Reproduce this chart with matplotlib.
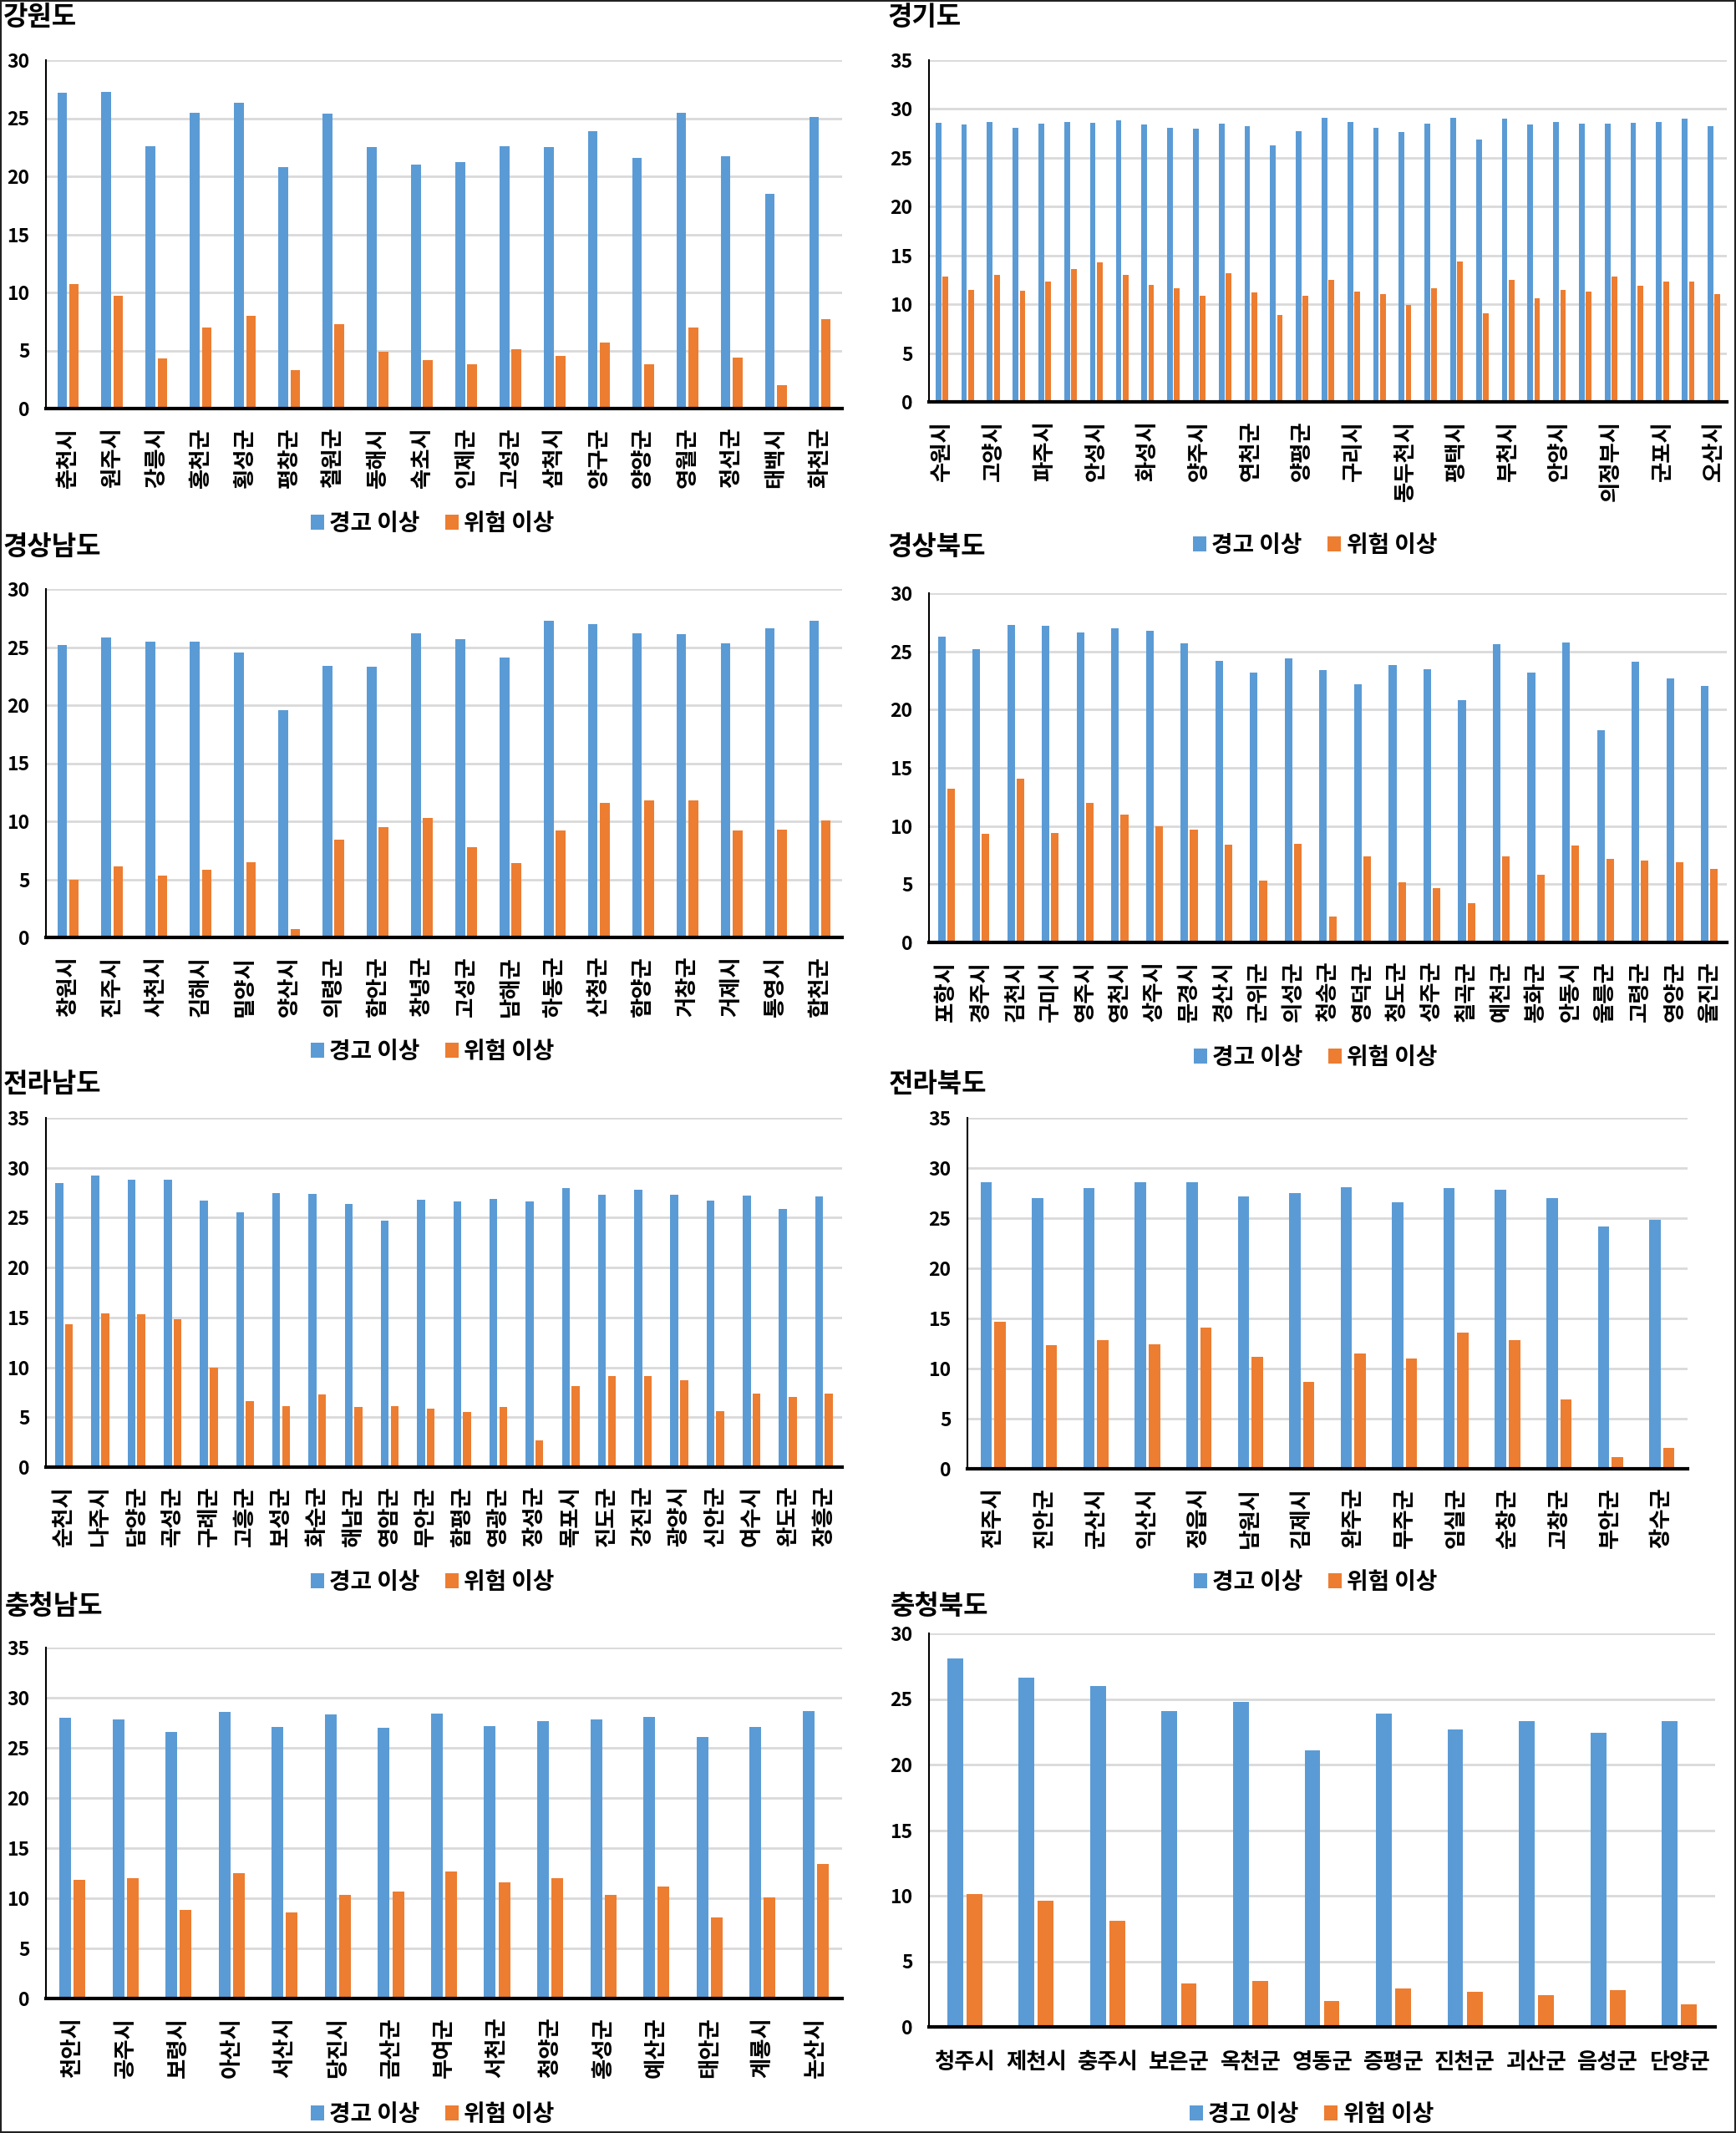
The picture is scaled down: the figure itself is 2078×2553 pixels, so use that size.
import numpy as np
import matplotlib
matplotlib.use('Agg')
import matplotlib.pyplot as plt
from matplotlib.patches import Rectangle

plt.rcParams['font.family'] = ['Noto Sans CJK KR', 'DejaVu Sans']

series_names = ['경고 이상', '위험 이상']
BLUE = '#5B9BD5'
ORANGE = '#ED7D31'

# 강원도
gangwon_names = ['춘천시', '원주시', '강릉시', '홍천군', '횡성군', '평창군', '철원군', '동해시', '속초시',
                 '인제군', '고성군', '삼척시', '양구군', '양양군', '영월군', '정선군', '태백시', '화천군']
gangwon_warn = [27.2, 27.3, 22.6, 25.5, 26.3, 20.8, 25.4, 22.5, 21.0, 21.2, 22.6, 22.5, 23.9, 21.6, 25.5, 21.7, 18.5, 25.1]
gangwon_danger = [10.7, 9.7, 4.3, 7.0, 8.0, 3.3, 7.3, 4.9, 4.2, 3.8, 5.1, 4.5, 5.7, 3.8, 7.0, 4.4, 2.0, 7.7]

# 경기도 (only every other label is shown in the original)
gyeonggi_names = ['수원시', '성남시', '고양시', '용인시', '파주시', '안산시', '안성시', '남양주시', '화성시', '시흥시',
                  '양주시', '김포시', '연천군', '광명시', '양평군', '광주시', '구리시', '하남시', '동두천시', '이천시',
                  '평택시', '포천시', '부천시', '의왕시', '안양시', '여주시', '의정부시', '과천시', '군포시', '가평군', '오산시']
gyeonggi_warn = [28.6, 28.4, 28.7, 28.1, 28.5, 28.7, 28.6, 28.8, 28.4, 28.1, 28.0, 28.5, 28.2, 26.3, 27.7, 29.1,
                 28.7, 28.1, 27.6, 28.5, 29.1, 26.9, 29.0, 28.4, 28.7, 28.5, 28.5, 28.6, 28.7, 29.0, 28.2]
gyeonggi_danger = [12.8, 11.5, 13.0, 11.4, 12.3, 13.6, 14.3, 13.0, 12.0, 11.6, 10.9, 13.2, 11.2, 8.9, 10.9, 12.5,
                   11.3, 11.0, 9.9, 11.6, 14.4, 9.1, 12.5, 10.6, 11.5, 11.3, 12.8, 11.9, 12.3, 12.3, 11.0]

# 경상남도
gyeongnam_names = ['창원시', '진주시', '사천시', '김해시', '밀양시', '양산시', '의령군', '함안군', '창녕군',
                   '고성군', '남해군', '하동군', '산청군', '함양군', '거창군', '거제시', '통영시', '합천군']
gyeongnam_warn = [25.2, 25.8, 25.5, 25.5, 24.5, 19.6, 23.4, 23.3, 26.2, 25.7, 24.1, 27.3, 27.0, 26.2, 26.1, 25.3, 26.6, 27.3]
gyeongnam_danger = [5.0, 6.1, 5.3, 5.8, 6.5, 0.7, 8.4, 9.5, 10.3, 7.8, 6.4, 9.2, 11.6, 11.8, 11.8, 9.2, 9.3, 10.1]

# 경상북도
gyeongbuk_names = ['포항시', '경주시', '김천시', '구미시', '영주시', '영천시', '상주시', '문경시', '경산시', '군위군',
                   '의성군', '청송군', '영덕군', '청도군', '성주군', '칠곡군', '예천군', '봉화군', '안동시', '울릉군',
                   '고령군', '영양군', '울진군']
gyeongbuk_warn = [26.3, 25.2, 27.3, 27.2, 26.6, 27.0, 26.8, 25.7, 24.2, 23.2, 24.4, 23.4, 22.2, 23.8, 23.5, 20.8,
                  25.6, 23.2, 25.8, 18.2, 24.1, 22.7, 22.0]
gyeongbuk_danger = [13.2, 9.3, 14.1, 9.4, 12.0, 11.0, 10.0, 9.7, 8.4, 5.3, 8.5, 2.2, 7.4, 5.2, 4.7, 3.4,
                    7.4, 5.8, 8.3, 7.2, 7.0, 6.9, 6.3]

# 전라남도
jeonnam_names = ['순천시', '나주시', '담양군', '곡성군', '구례군', '고흥군', '보성군', '화순군', '해남군', '영암군', '무안군',
                 '함평군', '영광군', '장성군', '목포시', '진도군', '강진군', '광양시', '신안군', '여수시', '완도군', '장흥군']
jeonnam_warn = [28.5, 29.2, 28.8, 28.8, 26.7, 25.5, 27.5, 27.4, 26.4, 24.7, 26.8, 26.6, 26.9, 26.6, 28.0,
                27.3, 27.8, 27.3, 26.7, 27.2, 25.9, 27.1]
jeonnam_danger = [14.3, 15.4, 15.3, 14.8, 10.0, 6.6, 6.1, 7.3, 6.0, 6.1, 5.9, 5.5, 6.0, 2.7, 8.1,
                  9.1, 9.1, 8.7, 5.6, 7.4, 7.0, 7.4]

# 전라북도
jeonbuk_names = ['전주시', '진안군', '군산시', '익산시', '정읍시', '남원시', '김제시', '완주군', '무주군', '임실군',
                 '순창군', '고창군', '부안군', '장수군']
jeonbuk_warn = [28.6, 27.0, 28.0, 28.6, 28.6, 27.2, 27.5, 28.1, 26.6, 28.0, 27.8, 27.0, 24.2, 24.8]
jeonbuk_danger = [14.7, 12.3, 12.8, 12.4, 14.1, 11.2, 8.7, 11.5, 11.0, 13.6, 12.8, 6.9, 1.2, 2.1]

# 충청남도
chungnam_names = ['천안시', '공주시', '보령시', '아산시', '서산시', '당진시', '금산군', '부여군', '서천군', '청양군',
                  '홍성군', '예산군', '태안군', '계룡시', '논산시']
chungnam_warn = [28.0, 27.8, 26.6, 28.6, 27.1, 28.3, 27.0, 28.4, 27.2, 27.7, 27.8, 28.1, 26.1, 27.1, 28.7]
chungnam_danger = [11.8, 12.0, 8.8, 12.5, 8.6, 10.3, 10.7, 12.7, 11.6, 12.0, 10.3, 11.2, 8.1, 10.1, 13.4]

# 충청북도
chungbuk_names = ['청주시', '제천시', '충주시', '보은군', '옥천군', '영동군', '증평군', '진천군', '괴산군', '음성군', '단양군']
chungbuk_warn = [28.1, 26.6, 26.0, 24.1, 24.8, 21.1, 23.9, 22.7, 23.3, 22.4, 23.3]
chungbuk_danger = [10.1, 9.6, 8.1, 3.3, 3.5, 2.0, 2.9, 2.7, 2.4, 2.8, 1.7]

W, H = 2078, 2553
fig = plt.figure(figsize=(W / 100, H / 100), dpi=100)
fig.patch.set_facecolor('white')


def px_rect(left, top, right, bottom):
    return [left / W, 1 - bottom / H, (right - left) / W, (bottom - top) / H]


def panel(title, names, warn, danger, ymax, rect, title_xy, legend_xy,
          every=1, horizontal=False):
    ax = fig.add_axes(px_rect(*rect))
    x = np.arange(len(names))
    w = 0.22
    ax.bar(x - 0.135, warn, w, color=BLUE, label=series_names[0], zorder=3)
    ax.bar(x + 0.135, danger, w, color=ORANGE, label=series_names[1], zorder=3)
    ax.set_xlim(-0.5, len(names) - 0.5)
    ax.set_ylim(0, ymax)
    ax.set_yticks(np.arange(0, ymax + 1, 5))
    ax.yaxis.grid(True, color='#d9d9d9', linewidth=2, zorder=0)
    ax.set_axisbelow(True)
    for s in ['top', 'right']:
        ax.spines[s].set_visible(False)
    ax.spines['left'].set_linewidth(1.5)
    ax.spines['bottom'].set_linewidth(3)
    ax.spines['bottom'].set_zorder(4)
    ax.set_xticks(x[::every])
    if horizontal:
        ax.set_xticklabels(names[::every], fontsize=19, fontweight='bold')
        ax.tick_params(axis='x', length=0, pad=21)
    else:
        ax.set_xticklabels(names[::every], rotation=90, fontsize=19, fontweight='bold')
        ax.tick_params(axis='x', length=0, pad=16)
    ax.tick_params(axis='y', length=0, pad=14, labelsize=16.5)
    for t in ax.get_yticklabels():
        t.set_fontweight('bold')
    fig.text(title_xy[0] / W, 1 - title_xy[1] / H, title, fontsize=23, fontweight='bold',
             ha='left', va='top')
    ax.legend(loc='center', bbox_to_anchor=(legend_xy[0] / W, 1 - legend_xy[1] / H),
              bbox_transform=fig.transFigure, ncol=2, frameon=False,
              prop={'size': 20, 'weight': 'bold'}, handlelength=0.55, handleheight=0.6,
              handletextpad=0.25, columnspacing=1.1)
    return ax


panel('강원도', gangwon_names, gangwon_warn, gangwon_danger, 30,
      (55, 72, 1008, 489), (4, 5), (518, 627))
panel('경기도', gyeonggi_names, gyeonggi_warn, gyeonggi_danger, 35,
      (1112, 72, 2067, 481), (1062, 5), (1574, 653), every=2)
panel('경상남도', gyeongnam_names, gyeongnam_warn, gyeongnam_danger, 30,
      (55, 705, 1008, 1122), (3, 639), (518, 1259))
panel('경상북도', gyeongbuk_names, gyeongbuk_warn, gyeongbuk_danger, 30,
      (1112, 710, 2067, 1128), (1062, 639), (1575, 1266))
panel('전라남도', jeonnam_names, jeonnam_warn, jeonnam_danger, 35,
      (55, 1338, 1008, 1756), (4, 1282), (518, 1894))
panel('전라북도', jeonbuk_names, jeonbuk_warn, jeonbuk_danger, 35,
      (1158, 1338, 2020, 1758), (1064, 1282), (1575, 1894))
panel('충청남도', chungnam_names, chungnam_warn, chungnam_danger, 35,
      (55, 1972, 1008, 2392), (6, 1907), (518, 2531))
panel('충청북도', chungbuk_names, chungbuk_warn, chungbuk_danger, 30,
      (1112, 1955, 2053, 2426), (1066, 1907), (1570, 2531), horizontal=True)

fig.patches.append(Rectangle((0, 0), 1, 1, transform=fig.transFigure, fill=False,
                             edgecolor='#222222', linewidth=3))

fig.savefig('out.png', dpi=100)
